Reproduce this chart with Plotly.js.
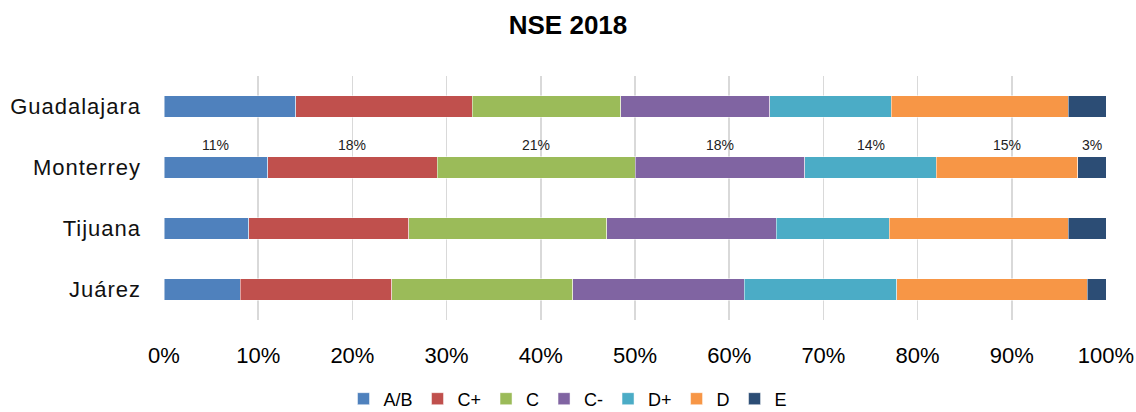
<!DOCTYPE html>
<html>
<head>
<meta charset="utf-8">
<script src="https://cdn.plot.ly/plotly-3.0.1.min.js"></script>
<style>
html,body{margin:0;padding:0;background:#fff;}
#chart{width:1136px;height:412px;}
.ytick text{letter-spacing:1px;}
</style>
</head>
<body>
<div id="chart"></div>
<script>
const cities = ["Guadalajara", "Monterrey", "Tijuana", "Juárez"];
const levels = ["A/B", "C+", "C", "C-", "D+", "D", "E"];
const colors = ["#4F81BD", "#C0504D", "#9BBB59", "#8064A2", "#4BACC6", "#F79646", "#2C4D75"];
// values per level, in city order
const AB = [14.0, 11, 9.0, 8.1];
const Cplus = [18.7, 18, 17.0, 16.1];
const C = [15.8, 21, 21.0, 19.2];
const Cminus = [15.8, 18, 18.0, 18.2];
const Dplus = [12.9, 14, 12.0, 16.2];
const D = [18.8, 15, 19.0, 20.2];
const E = [4.0, 3, 4.0, 2.0];
const series = [AB, Cplus, C, Cminus, Dplus, D, E];
const labelCity = "Monterrey";

const regular = "'Liberation Sans', Arial, sans-serif";

const traces = series.map((vals, i) => ({
  type: "bar",
  orientation: "h",
  name: levels[i],
  y: cities,
  x: vals.map(v => v / 100),
  marker: {color: colors[i], line: {color: "rgba(255,255,255,0.6)", width: 0.8}},
  hoverinfo: "skip"
}));

// data labels for Monterrey, centered on each segment
const ci = cities.indexOf(labelCity);
let cum = 0;
const annotations = series.map((vals, i) => {
  const v = vals[ci];
  const mid = (cum + v / 2) / 100;
  cum += v;
  return {
    x: mid, y: labelCity, xref: "x", yref: "y",
    text: Math.round(v) + "%", showarrow: false,
    yshift: 23, font: {family: regular, size: 14, color: "#222"}
  };
});

const layout = {
  width: 1136, height: 412,
  margin: {l: 164, r: 30, t: 76, b: 92, pad: 0, autoexpand: false},
  paper_bgcolor: "#fff", plot_bgcolor: "#fff",
  barmode: "stack",
  bargap: 0.64,
  title: {text: "NSE 2018", x: 0.5, xanchor: "center", y: 0.94, yanchor: "middle",
          font: {family: regular, size: 26, color: "#000", weight: "bold"}},
  xaxis: {
    range: [0, 1], tickformat: ".0%", dtick: 0.1, tick0: 0,
    showgrid: true, gridcolor: "#d9d9d9", gridwidth: 1.5,
    zeroline: false, showline: false, ticks: "",
    tickfont: {family: regular, size: 22, color: "#000"}, ticklabelstandoff: 20
  },
  yaxis: {
    autorange: "reversed", showgrid: false, zeroline: false, showline: false, ticks: "",
    tickfont: {family: regular, size: 22, color: "#111"}, ticklabelstandoff: 22
  },
  showlegend: true,
  legend: {orientation: "h", x: 0.5, xanchor: "center", xref: "container",
           y: 0.0316, yanchor: "middle", yref: "container",
           font: {family: regular, size: 18, color: "#000"}, traceorder: "normal",
           itemwidth: 30, tracegroupgap: 0},
  annotations: annotations
};

Plotly.newPlot("chart", traces, layout, {displayModeBar: false, staticPlot: true});
</script>
</body>
</html>
